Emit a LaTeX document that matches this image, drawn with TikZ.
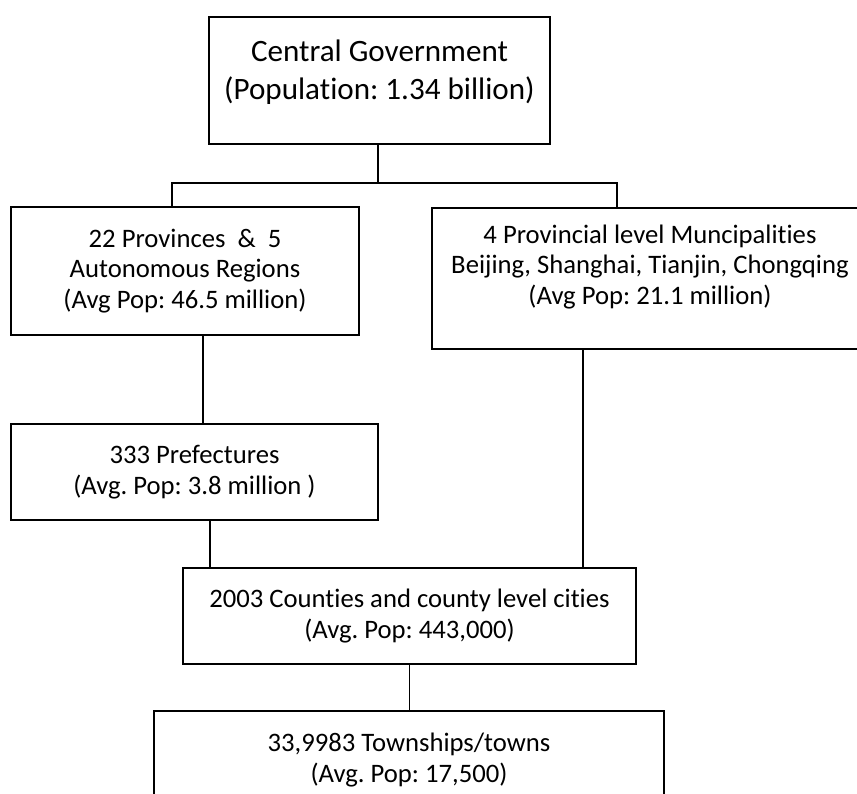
\documentclass[tikz,border=0pt]{standalone}
\usepackage{fontspec}
\setmainfont[Ligatures=NoCommon]{Carlito}
\frenchspacing
\tikzset{
	box/.style={draw,line width=.6pt,inner sep=0pt},
	txt/.style={align=center,font=\fontsize{12}{13.8}\selectfont},
	bigtxt/.style={align=center,font=\fontsize{14}{17}\selectfont},
	link/.style={line width=.6pt}
}
\begin{document}
\begin{tikzpicture}[x=.45pt,y=-.45pt]
		\useasboundingbox (0,0) rectangle (857,794);
		\clip (0,0) rectangle (857,794);
		% boxes
		\node[box,minimum width=153.45pt,minimum height=57.15pt] (gov) at (379.5,80.5) {};
		\node[box,minimum width=156.6pt,minimum height=57.6pt] (prov) at (185,271) {};
		\node[box,minimum width=196.2pt,minimum height=63.45pt] (muni) at (650,278.5) {};
		\node[box,minimum width=165.15pt,minimum height=43.2pt] (pref) at (194.5,472) {};
		\node[box,minimum width=203.85pt,minimum height=43.2pt] (county) at (409.5,616) {};
		\node[box,minimum width=229.5pt,minimum height=54pt] (town) at (409,771) {};
		% texts
		\node[bigtxt] (govtxt) at (379.5,72.5) {Central Government\\(Population: 1.34 billion)};
		\node[txt] (provtxt) at (prov) {22 Provinces\ \ \&\ \ 5\\Autonomous Regions\\(Avg Pop: 46.5 million)};
		\node[txt] (munitxt) at (650,267) {4 Provincial level Muncipalities\\Beijing, Shanghai, Tianjin, Chongqing\\(Avg Pop: 21.1 million)};
		\node[txt] (preftxt) at (pref) {333 Prefectures\\(Avg. Pop: 3.8 million )};
		\node[txt] (countytxt) at (county) {2003 Counties and county level cities\\(Avg. Pop: 443,000)};
		\node[txt] (towntxt) at (409,760) {33,9983 Townships/towns\\(Avg. Pop: 17,500)};
		% connectors
		\coordinate (busL) at (172,183);
		\coordinate (busR) at (617,183);
		\coordinate (c1) at (203,0);
		\coordinate (c2) at (210,0);
		\coordinate (c3) at (583,0);
		\draw[link] (gov.south -| 378,0) -- (378,183);
		\draw[link] (prov.north -| busL) -- (busL) -- (busR) -- (muni.north -| busR);
		\draw[link] (prov.south -| c1) -- (pref.north -| c1);
		\draw[link] (pref.south -| c2) -- (county.north -| c2);
		\draw[link] (muni.south -| c3) -- (county.north -| c3);
		\draw[link] (county.south) -- (county.south |- town.north);
	\end{tikzpicture}
\end{document}
